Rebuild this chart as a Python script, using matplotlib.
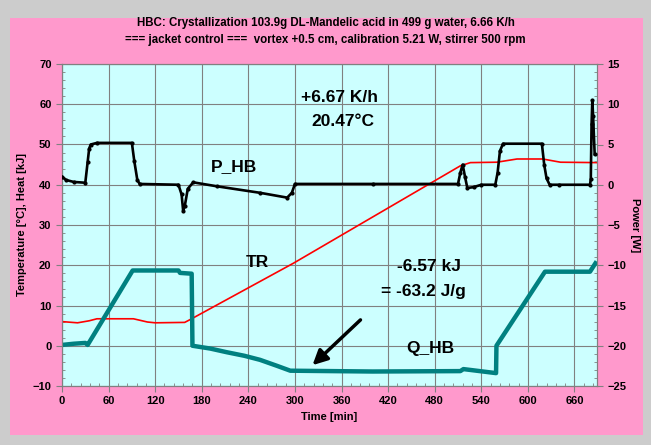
import matplotlib.pyplot as plt
import matplotlib.patches as patches
from matplotlib.ticker import MultipleLocator

plt.rcParams['font.family'] = ['Liberation Sans', 'DejaVu Sans']
plt.rcParams['font.weight'] = 'bold'

# TR, reactor temperature [°C]
tr_time = [0, 20, 35, 45, 92, 110, 120, 158, 165, 298, 513, 526, 560, 586, 619, 642, 689]
tr_temp = [6.0, 5.7, 6.2, 6.7, 6.7, 5.9, 5.7, 5.8, 6.5, 20.5, 44.7, 45.5, 45.6, 46.4, 46.4, 45.6, 45.5]

# P_HB, heat flow power [W]
p_time = [0, 5, 15, 30, 33, 35, 37, 45, 90, 93, 97, 100, 150, 154, 156, 158, 162, 169,
          200, 255, 290, 296, 300, 400, 510, 513, 516, 519, 522, 530, 540, 558, 561, 564,
          568, 618, 621, 624, 628, 640, 680, 681, 682, 683, 684, 686]
p_power = [1.0, 0.6, 0.35, 0.25, 2.8, 4.5, 5.0, 5.2, 5.2, 3.0, 0.6, 0.1, 0.0, -1.2, -3.2, -2.7, -0.5, 0.3,
           -0.2, -1.0, -1.6, -1.0, 0.1, 0.1, 0.1, 1.5, 2.5, 1.0, -0.4, -0.3, 0.0, 0.0, 1.5, 4.2,
           5.1, 5.1, 2.5, 0.8, 0.0, 0.0, 0.0, 0.7, 7.5, 10.5, 8.5, 3.8]

# Q_HB, integrated heat [kJ]
q_time = [0, 15, 30, 33, 91, 150, 152, 167, 168, 191, 212, 235, 255, 277, 294, 400, 513, 517,
          559, 559.5, 622, 680, 687]
q_heat = [0.2, 0.5, 0.7, 0.2, 18.7, 18.7, 18.1, 17.9, 0.0, -0.7, -1.6, -2.5, -3.5, -5.0, -6.2, -6.4,
          -6.3, -5.8, -6.8, 0.0, 18.4, 18.4, 20.5]

fig = plt.figure(figsize=(6.51, 4.45), dpi=100, facecolor='#cccccc')
panel = patches.Rectangle((10 / 651, 1 - 435 / 445), 633 / 651, 417 / 445,
                          transform=fig.transFigure, facecolor='#ff99cc',
                          edgecolor='none', zorder=-10)
fig.add_artist(panel)

ax = fig.add_axes([62 / 651, 1 - 386 / 445, 535 / 651, 322 / 445])
ax.set_facecolor('#ccffff')
ax2 = ax.twinx()

ax.plot(tr_time, tr_temp, color='#ff0000', lw=1.2, zorder=3)
ax.plot(q_time, q_heat, color='#008080', lw=3.2, zorder=4, solid_joinstyle='round')
ax2.plot(p_time, p_power, color='black', lw=1.9, marker='o', markersize=2.0, zorder=5)

ax.set_xlim(0, 689)
ax.set_ylim(-10, 70)
ax2.set_ylim(-25, 15)
ax.xaxis.set_major_locator(MultipleLocator(60))
ax.xaxis.set_minor_locator(MultipleLocator(12))
ax.yaxis.set_major_locator(MultipleLocator(10))
ax.yaxis.set_minor_locator(MultipleLocator(2))
ax2.yaxis.set_major_locator(MultipleLocator(5))
ax2.yaxis.set_minor_locator(MultipleLocator(1))
ax.grid(True, which='major', color='#808080', lw=0.8)
ax.set_axisbelow(True)

for a in (ax, ax2):
    a.tick_params(which='major', labelsize=8, length=4, direction='out', color='#808080')
    a.tick_params(which='minor', length=2, direction='in', color='#808080')
    for s in a.spines.values():
        s.set_color('#808080')

ax.set_xlabel('Time [min]', fontsize=8, fontweight='bold')
ax.set_ylabel('Temperature [°C], Heat [kJ]', fontsize=8, fontweight='bold')
ax2.set_ylabel('Power [W]', fontsize=8, fontweight='bold', rotation=270, labelpad=10)

fig.text(0.5, 1 - 23 / 445, 'HBC: Crystallization 103.9g DL-Mandelic acid in 499 g water, 6.66 K/h',
         ha='center', va='center', fontsize=8.3, fontweight='bold')
fig.text(0.5, 1 - 40 / 445, '=== jacket control ===  vortex +0.5 cm, calibration 5.21 W, stirrer 500 rpm',
         ha='center', va='center', fontsize=8.3, fontweight='bold')

txt = dict(ha='center', va='center', fontsize=12.5, fontweight='bold', zorder=6)
ax.text(358, 61.8, '+6.67 K/h', **txt)
ax.text(362, 55.6, '20.47°C', **txt)
ax.text(222, 44.4, 'P_HB', **txt)
ax.text(252, 20.6, 'TR', **txt)
ax.text(472, 19.8, '-6.57 kJ', **txt)
ax.text(465, 13.4, '= -63.2 J/g', **txt)
ax.text(474, -0.8, 'Q_HB', **txt)
ax.annotate('', xy=(320, -5.3), xytext=(387, 6.9),
            arrowprops=dict(arrowstyle='-|>', color='black', lw=2.5, mutation_scale=22), zorder=6)

fig.savefig('out.png', dpi=100, facecolor=fig.get_facecolor())
